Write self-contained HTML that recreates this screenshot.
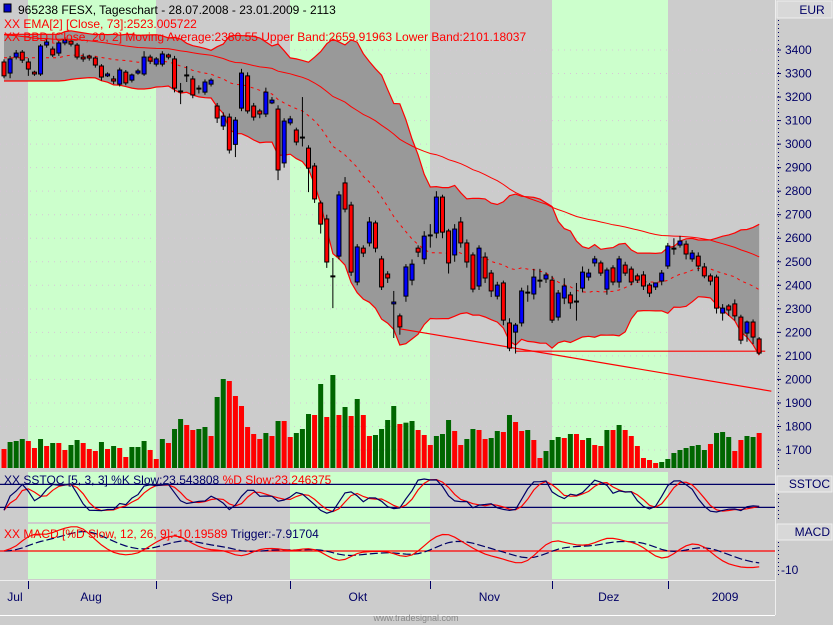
<!DOCTYPE html>
<html><head><meta charset="utf-8"><style>
html,body{margin:0;padding:0;background:#cccccc;}
svg{display:block;font-family:"Liberation Sans",sans-serif;}
</style></head><body>
<svg id="chart" width="833" height="625" viewBox="0 0 833 625" xmlns="http://www.w3.org/2000/svg">
<defs>
<clipPath id="mainClip"><rect x="0" y="0" width="775" height="468"/></clipPath>
<clipPath id="stClip"><rect x="0" y="472" width="775" height="50"/></clipPath>
<clipPath id="mdClip"><rect x="0" y="524" width="775" height="55"/></clipPath>
</defs>
<rect x="0" y="0" width="833" height="625" fill="#cccccc"/>
<g id="bands"></g>
<g id="grid"></g>
<g id="sep">
<rect x="0" y="468" width="775" height="4" fill="#cccccc"/>
<rect x="0" y="522" width="775" height="2" fill="#cccccc"/>
<rect x="0" y="579" width="775" height="36" fill="#cccccc"/>
<line x1="0" y1="615.5" x2="775" y2="615.5" stroke="#ffffff"/>
<line x1="775.5" y1="0" x2="775.5" y2="615" stroke="#eeeeee"/>
</g>
<g id="main" clip-path="url(#mainClip)"></g>
<g id="stoch" clip-path="url(#stClip)"></g>
<g id="macd" clip-path="url(#mdClip)"></g>
<g id="axis"></g>
<g id="xaxis"></g>
<g>
<rect x="4" y="4" width="7" height="8" fill="#0000cc" stroke="#000" stroke-width="1"/>
<text x="18" y="14" font-size="12" fill="#000">965238  FESX, Tageschart - 28.07.2008 - 23.01.2009 - 2113</text>
<text x="4" y="28" font-size="12" fill="#ff0000">XX EMA[2] [Close, 73]:2523.005722</text>
<text x="4" y="41" font-size="12" fill="#ff0000">XX BBD [Close, 20, 2] Moving Average:2380.55 Upper Band:2659.91963 Lower Band:2101.18037</text>
<text x="4" y="484" font-size="12" fill="#000066">XX SSTOC [5, 3, 3] %K Slow:23.543808 <tspan fill="#ff0000">%D Slow:23.246375</tspan></text>
<text x="4" y="538" font-size="12" fill="#ff0000">XX MACD [%D Slow, 12, 26, 9]:-10.19589 <tspan fill="#000066">Trigger:-7.91704</tspan></text>
<text x="416" y="621" font-size="9" fill="#888888" text-anchor="middle">www.tradesignal.com</text>
</g>
</svg>
<script>
const opens=[3349,3302,3370,3391,3349,3306,3298,3421,3404,3387,3430,3438,3421,3370,3374,3366,3332,3290,3277,3255,3306,3272,3302,3298,3370,3340,3340,3379,3362,3226,3294,3277,3238,3221,3255,3162,3077,3115,2999,3153,3290,3162,3141,3128,3175,3149,2920,3090,3060,3030,2983,2907,2750,2682,2440,2524,2835,2741,2414,2558,2580,2665,2512,2448,2321,2270,2354,2422,2558,2512,2614,2622,2775,2631,2529,2669,2580,2529,2397,2520,2452,2354,2410,2240,2201,2240,2371,2363,2422,2427,2422,2265,2346,2359,2333,2388,2435,2495,2495,2384,2474,2414,2486,2469,2440,2444,2401,2393,2418,2482,2558,2571,2575,2512,2524,2478,2440,2435,2282,2312,2321,2265,2197,2244,2172];
const closes=[3290,3362,3387,3357,3319,3298,3417,3434,3379,3430,3442,3425,3370,3362,3366,3336,3285,3298,3268,3315,3260,3294,3311,3370,3353,3362,3383,3370,3238,3226,3294,3209,3238,3264,3272,3111,3119,2975,3102,3302,3141,3115,3128,3221,3187,2890,3098,3107,3009,3030,2898,2767,2660,2499,2440,2784,2724,2456,2563,2537,2669,2558,2393,2431,2329,2223,2478,2490,2541,2609,2614,2775,2626,2495,2639,2580,2499,2384,2558,2431,2376,2401,2252,2133,2231,2376,2371,2435,2422,2444,2252,2367,2397,2325,2333,2456,2452,2512,2452,2465,2414,2512,2452,2414,2422,2397,2367,2410,2452,2567,2558,2588,2533,2537,2482,2440,2418,2303,2303,2295,2270,2167,2244,2180,2112];
const highs=[3360,3375,3400,3400,3365,3312,3425,3450,3415,3440,3455,3445,3430,3385,3380,3372,3340,3305,3290,3325,3315,3300,3320,3395,3380,3370,3395,3385,3375,3260,3332,3290,3250,3275,3280,3175,3135,3130,3115,3320,3305,3175,3150,3240,3200,3165,3110,3120,3070,3200,2995,2920,2760,2700,2516,2800,2860,2755,2575,2570,2690,2675,2525,2460,2376,2280,2490,2510,2570,2630,2660,2800,2785,2640,2660,2690,2595,2540,2570,2540,2465,2415,2420,2260,2240,2390,2400,2470,2470,2455,2440,2380,2430,2372,2410,2480,2470,2525,2505,2475,2485,2525,2500,2480,2450,2460,2410,2400,2465,2580,2600,2610,2590,2550,2540,2495,2450,2445,2320,2320,2340,2275,2250,2255,2180];
const lows=[3280,3280,3360,3345,3290,3290,3290,3410,3370,3375,3420,3415,3360,3350,3355,3325,3270,3285,3255,3245,3250,3262,3295,3290,3340,3330,3330,3360,3220,3170,3264,3195,3215,3210,3245,3090,3060,2960,2945,3140,3130,3100,3110,3115,3170,2847,2900,3080,2995,2990,2796,2750,2620,2474,2303,2510,2710,2440,2400,2520,2565,2540,2380,2410,2176,2190,2330,2400,2520,2490,2560,2600,2600,2450,2500,2560,2475,2370,2380,2410,2350,2340,2230,2120,2110,2225,2330,2340,2390,2410,2240,2250,2320,2300,2250,2370,2420,2480,2440,2360,2400,2390,2440,2400,2410,2380,2350,2380,2400,2470,2530,2560,2510,2500,2460,2430,2400,2280,2250,2270,2250,2150,2160,2150,2105];
const volumes=[57,78,81,87,81,60,87,66,75,75,54,69,84,75,57,51,78,57,66,60,33,63,63,81,54,27,87,75,117,147,129,114,117,123,96,213,267,261,216,186,123,102,87,105,96,141,141,93,105,117,162,159,252,153,279,159,183,156,207,159,96,99,117,144,186,132,136,141,114,99,69,96,102,144,111,69,87,117,114,87,90,111,108,159,138,111,114,84,30,51,84,93,90,102,102,84,90,69,66,114,114,129,114,96,66,30,24,15,18,27,45,54,60,66,69,54,72,105,108,93,51,84,96,93,105];
const volColors="rgggrrgrgrrggrrrgrgrrgggrrgrggrrggrggrrrrrrgrgrrgggrgrgrgrgrrggggrggrrrgggrrggrrggrgrrgrrgggrgrrgrrgrgrrrrrrggggggggrgggrrggrg";
const priceTicks=[3400,3300,3200,3100,3000,2900,2800,2700,2600,2500,2400,2300,2200,2100,2000,1900,1800,1700];
const monthLabels=["Jul","Aug","Sep","Okt","Nov","Dez","2009"];
const monthLabelBar=[1.8,14.3,35.8,58.1,79.7,99.3,118.4];
const trendLine=[[65,2215],[126,1950]];
const supportLine=[[84,2120],[125,2120]];

const NS="http://www.w3.org/2000/svg";
function mk(tag,attrs,parent){const e=document.createElementNS(NS,tag);for(const k in attrs)e.setAttribute(k,attrs[k]);parent.appendChild(e);return e;}
const xOf=i=>4+i*6.09;
const yP=p=>50+(3400-p)*0.2353;
const yV=v=>468-v/3;
const yS=v=>515-v*0.383;

const bands=document.getElementById('bands');
const bandEdges=[28,156,290,430,552,668];
for(let k=0;k<3;k++){
 const r=mk('rect',{x:bandEdges[k*2],y:0,width:bandEdges[k*2+1]-bandEdges[k*2],height:580,fill:'#ccffcc'},bands);
 
 
}
const grid=document.getElementById('grid');
priceTicks.forEach(p=>{
 const l=mk('line',{x1:0,x2:775,y1:yP(p),y2:yP(p),stroke:'#d8c4d8','stroke-dasharray':'1,5'},grid);
 
 
});

const n=Math.min(opens.length,closes.length,highs.length,lows.length);
const main=document.getElementById('main');

const mid=[],up=[],lo=[];
for(let i=0;i<n;i++){
 const s=Math.max(0,i-19);const end=Math.max(i,9);
 const w=closes.slice(s,end+1);const m=w.reduce((a,b)=>a+b,0)/w.length;
 const sd=Math.sqrt(w.reduce((a,b)=>a+(b-m)*(b-m),0)/w.length);
 mid.push(m);up.push(m+2*sd);lo.push(m-2*sd);
}
let poly='';
for(let i=0;i<n;i++)poly+=xOf(i)+','+yP(up[i])+' ';
for(let i=n-1;i>=0;i--)poly+=xOf(i)+','+yP(lo[i])+' ';
const bf=mk('polygon',{points:poly,fill:'#999999'},main);


function pl(arr,attrs,name){let d='';arr.forEach((v,i)=>{d+=(i?'L':'M')+xOf(i).toFixed(1)+','+yP(v).toFixed(1);});const p=mk('path',Object.assign({d:d,fill:'none'},attrs),main);return p;}
pl(up,{stroke:'#ff0000','stroke-width':1.2},'upper-band');
pl(lo,{stroke:'#ff0000','stroke-width':1.2},'lower-band');
pl(mid,{stroke:'#ff0000','stroke-width':1,'stroke-dasharray':'3,4'},'moving-average');
const ema=[];let ev=3470;const a=2/74;
for(let i=0;i<n;i++){ev=ev+a*(closes[i]-ev);ema.push(ev);}
pl(ema,{stroke:'#ff0000','stroke-width':1},'ema-73');
[trendLine,supportLine].forEach((t,k)=>{
 const l=mk('line',{x1:xOf(t[0][0]),y1:yP(t[0][1]),x2:xOf(t[1][0]),y2:yP(t[1][1]),stroke:'#ff0000','stroke-width':1.2},main);
 
 
});
for(let i=0;i<Math.min(n,volumes.length);i++){
 const r=mk('rect',{x:xOf(i)-2.5,y:yV(volumes[i]),width:5,height:468-yV(volumes[i]),fill:volColors[i]==='g'?'#006600':'#ff0000'},main);
 
 
}
for(let i=0;i<n;i++){
 const x=xOf(i);const g=mk('g',{},main);
 
 
 mk('line',{x1:x,x2:x,y1:yP(highs[i]),y2:yP(lows[i]),stroke:'#000','stroke-width':1},g);
 const t=yP(Math.max(opens[i],closes[i])),b=yP(Math.min(opens[i],closes[i]));
 const col=closes[i]>opens[i]?'#0000ff':(closes[i]<opens[i]?'#ff0000':'#000');
 if(b-t<1.5){mk('rect',{x:x-2.5,y:t-0.5,width:5,height:2,fill:'#000'},g);}
 else mk('rect',{x:x-2,y:t,width:4,height:b-t,fill:col,stroke:'#000','stroke-width':1},g);
}
const stoch=document.getElementById('stoch');
const kf=[];for(let i=0;i<n;i++){const s=Math.max(0,i-4);const hh=Math.max(...highs.slice(s,i+1)),ll=Math.min(...lows.slice(s,i+1));kf.push(hh>ll?(closes[i]-ll)/(hh-ll)*100:50);}
const sma=(arr,p)=>arr.map((v,i)=>{const w=arr.slice(Math.max(0,i-p+1),i+1);return w.reduce((a,b)=>a+b,0)/w.length;});
const ks=sma(kf,3),ds=sma(ks,3);
[20,80].forEach(v=>{const l=mk('line',{x1:0,x2:775,y1:yS(v),y2:yS(v),stroke:'#000066','stroke-width':1.2},stoch);});
function spl(arr,fy,attrs,par,name){let d='';arr.forEach((v,i)=>{d+=(i?'L':'M')+xOf(i).toFixed(1)+','+fy(v).toFixed(1);});const p=mk('path',Object.assign({d:d,fill:'none'},attrs),par);}
spl(ds,yS,{stroke:'#ff0000','stroke-width':1.2},stoch,'sstoc-d-line');
spl(ks,yS,{stroke:'#000066','stroke-width':1.2},stoch,'sstoc-k-line');
const macdG=document.getElementById('macd');
const emaF=(arr,p)=>{const k=2/(p+1);let v=arr[0];return arr.map(x=>v=v+k*(x-v));};
const e12=emaF(ds,12),e26=emaF(ds,26);
const macd=e12.map((v,i)=>v-e26[i]);const trig=emaF(macd,9);
const yM=v=>551-v*1.5;
const zl=mk('line',{x1:0,x2:775,y1:551,y2:551,stroke:'#ff0000','stroke-width':1.2},macdG);

spl(trig,yM,{stroke:'#000066','stroke-width':1.2,'stroke-dasharray':'8,3'},macdG,'macd-trigger-line');
spl(macd,yM,{stroke:'#ff0000','stroke-width':1.2},macdG,'macd-line');
const ax=document.getElementById('axis');
mk('line',{x1:778.5,x2:778.5,y1:20,y2:470,stroke:'#000066','stroke-dasharray':'1,3'},ax);
const eur=mk('rect',{x:777,y:1,width:55,height:17,fill:'#d8d8d8',stroke:'#eeeeee'},ax);

const et=mk('text',{x:812,y:14,'font-size':12,fill:'#000066','text-anchor':'middle'},ax);et.textContent='EUR';
priceTicks.forEach(p=>{
 const y=yP(p);
 mk('line',{x1:777,x2:781,y1:y,y2:y,stroke:'#000066'},ax);
 const t=mk('text',{x:785,y:y+4,'font-size':12,fill:'#000066'},ax);t.textContent=p;
 
});
[['SSTOC',476],['MACD',524]].forEach(([s,y])=>{
 const r=mk('rect',{x:777,y:y,width:55,height:16,fill:'#d8d8d8',stroke:'#eeeeee'},ax);
 
 const t=mk('text',{x:830,y:y+12,'font-size':12,fill:'#000066','text-anchor':'end'},ax);t.textContent=s;
});
mk('line',{x1:778.5,x2:778.5,y1:494,y2:520,stroke:'#000066','stroke-dasharray':'1,3'},ax);
mk('line',{x1:778.5,x2:778.5,y1:542,y2:578,stroke:'#000066','stroke-dasharray':'1,3'},ax);
const m10=mk('text',{x:781,y:574,'font-size':12,fill:'#000066'},ax);m10.textContent='-10';
const xa=document.getElementById('xaxis');
mk('line',{x1:0,x2:775,y1:580.5,y2:580.5,stroke:'#eeeeee'},xa);
bandEdges.forEach(x=>mk('line',{x1:x+0.5,x2:x+0.5,y1:581,y2:589,stroke:'#000066'},xa));
monthLabels.forEach((m,k)=>{
 const t=mk('text',{x:xOf(monthLabelBar[k]),y:601,'font-size':12,fill:'#000066','text-anchor':'middle'},xa);
 t.textContent=m;
 
 
});
</script>
</body></html>
